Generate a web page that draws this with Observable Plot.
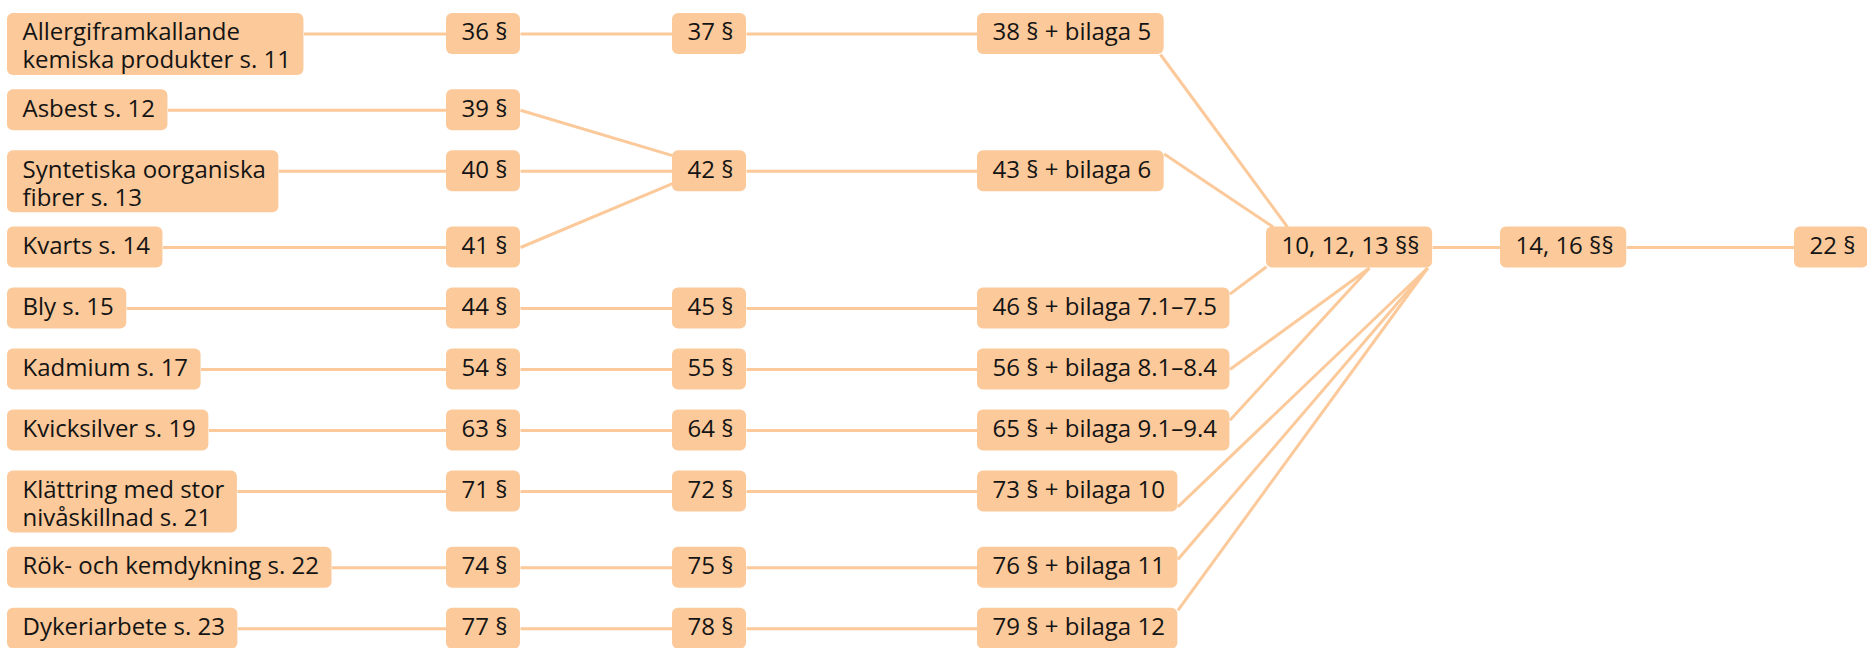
<!DOCTYPE html>
<html>
<head>
<meta charset="utf-8">
<script src="https://cdn.jsdelivr.net/npm/d3@7"></script>
<script src="https://cdn.jsdelivr.net/npm/@observablehq/plot@0.6"></script>
<style>
  html, body { margin: 0; padding: 0; background: #fff; }
  #chart svg { display: block; }
</style>
</head>
<body>
<div id="chart"></div>
<script>
// ---- Data ----
const categories = [
  "Allergiframkallande\nkemiska produkter s. 11",
  "Asbest s. 12",
  "Syntetiska oorganiska\nfibrer s. 13",
  "Kvarts s. 14",
  "Bly s. 15",
  "Kadmium s. 17",
  "Kvicksilver s. 19",
  "Klättring med stor\nnivåskillnad s. 21",
  "Rök- och kemdykning s. 22",
  "Dykeriarbete s. 23"
];
const step1 = ["36 §", "39 §", "40 §", "41 §", "44 §", "54 §", "63 §", "71 §", "74 §", "77 §"];
// which row's step-2 node each step-1 node feeds into
const step1Target = [0, 2, 2, 2, 4, 5, 6, 7, 8, 9];
const step2 = ["37 §", null, "42 §", null, "45 §", "55 §", "64 §", "72 §", "75 §", "78 §"];
const step3 = [
  "38 § + bilaga 5", null, "43 § + bilaga 6", null,
  "46 § + bilaga 7.1–7.5", "56 § + bilaga 8.1–8.4", "65 § + bilaga 9.1–9.4",
  "73 § + bilaga 10", "76 § + bilaga 11", "79 § + bilaga 12"
];
const common = ["10, 12, 13 §§", "14, 16 §§", "22 §"];
const commonRow = 3;

// ---- Layout / style ----
const W = 1867, H = 648;
const FONT = 24, LINE = 28, BOX_H = 41, EXTRA_LINE_H = 21, PAD_L = 15, PAD_R = 13;
const PEACH = "#fbc99a";
const INK = "#141414";
const colStarts = [7, 446, 672, 977, 1266, 1500, 1794];
const rowStep = 61;
// link attachment points, as fractions of box width / first-line box height
const ports = {
  "1:1>2:2": {t: [0, 0.12]},
  "1:3>2:2": {t: [0, 0.8]},
  "3:0>4:3": {s: [0.98, 1], t: [0.126, 0]},
  "3:2>4:3": {s: [1, 0.08], t: [0.04, 0]},
  "3:4>4:3": {s: [1, 0.15], t: [0, 0.97]},
  "3:5>4:3": {s: [1, 0.5], t: [0.62, 1]},
  "3:6>4:3": {s: [1, 0.25], t: [0.62, 1]},
  "3:7>4:3": {s: [1, 0.875], t: [0.97, 1]},
  "3:8>4:3": {s: [1, 0.3], t: [0.97, 1]},
  "3:9>4:3": {s: [1, 0.05], t: [0.97, 1]}
};

// rows: slot positions (two-line rows take 1.25 slots)
const rowLines = categories.map(c => c.split("\n").length);
const rowTop = [];
let acc = 0;
rowLines.forEach(n => { rowTop.push(acc); acc += n > 1 ? 1.25 : 1; });

const xOpts = {type: "linear", domain: colStarts.map((_, i) => i), range: colStarts};
const yOpts = {type: "linear", domain: [0, acc], range: [13, 13 + acc * rowStep]};
const xS = Plot.scale({x: xOpts});
const yS = Plot.scale({y: yOpts});

// text measurement
const ctx = document.createElement("canvas").getContext("2d");
ctx.font = `${FONT}px "Open Sans"`;
const textW = s => Math.max(...s.split("\n").map(l => ctx.measureText(l).width));

// nodes
const nodes = [];
[categories, step1, step2, step3].forEach((col, c) =>
  col.forEach((label, r) => { if (label) nodes.push({id: `${c}:${r}`, col: c, row: r, label}); }));
common.forEach((label, k) => nodes.push({id: `${4 + k}:${commonRow}`, col: 4 + k, row: commonRow, label}));

const byId = new Map();
for (const n of nodes) {
  const lines = n.label.split("\n").length;
  n.px1 = xS.apply(n.col);
  n.w = textW(n.label) + PAD_L + PAD_R;
  n.py1 = yS.apply(rowTop[n.row]);
  n.h = BOX_H + (lines - 1) * EXTRA_LINE_H;
  n.x1 = n.col;
  n.x2 = xS.invert(n.px1 + n.w);
  n.y1 = rowTop[n.row];
  n.y2 = yS.invert(n.py1 + n.h);
  byId.set(n.id, n);
}

// links
const linkPairs = [];
categories.forEach((_, r) => linkPairs.push([`0:${r}`, `1:${r}`]));
step1.forEach((_, r) => linkPairs.push([`1:${r}`, `2:${step1Target[r]}`]));
step2.forEach((v, r) => { if (v) linkPairs.push([`2:${r}`, `3:${r}`]); });
step3.forEach((v, r) => { if (v) linkPairs.push([`3:${r}`, `4:${commonRow}`]); });
linkPairs.push([`4:${commonRow}`, `5:${commonRow}`], [`5:${commonRow}`, `6:${commonRow}`]);

const links = linkPairs.map(([a, b]) => {
  const s = byId.get(a), t = byId.get(b);
  const p = ports[`${a}>${b}`] || {};
  const sp = p.s || [1, 0.5], tp = p.t || [0, 0.5];
  return {
    x1: xS.invert(s.px1 + sp[0] * s.w),
    y1: yS.invert(s.py1 + sp[1] * BOX_H),
    x2: xS.invert(t.px1 + tp[0] * t.w),
    y2: yS.invert(t.py1 + tp[1] * BOX_H)
  };
});

const chart = Plot.plot({
  width: W,
  height: H,
  margin: 0,
  x: {...xOpts, axis: null},
  y: {...yOpts, axis: null},
  style: {background: "#fff", overflow: "visible"},
  marks: [
    Plot.link(links, {x1: "x1", y1: "y1", x2: "x2", y2: "y2", stroke: PEACH, strokeWidth: 3}),
    Plot.rect(nodes, {x1: "x1", x2: "x2", y1: "y1", y2: "y2", fill: PEACH, rx: 6}),
    Plot.text(nodes, {
      x: "x1", y: "y1", text: "label",
      textAnchor: "start", lineAnchor: "top",
      dx: PAD_L, dy: 7,
      fontSize: FONT, lineHeight: LINE / FONT,
      fontFamily: "Open Sans", fill: INK
    })
  ]
});
document.getElementById("chart").appendChild(chart);
</script>
</body>
</html>
